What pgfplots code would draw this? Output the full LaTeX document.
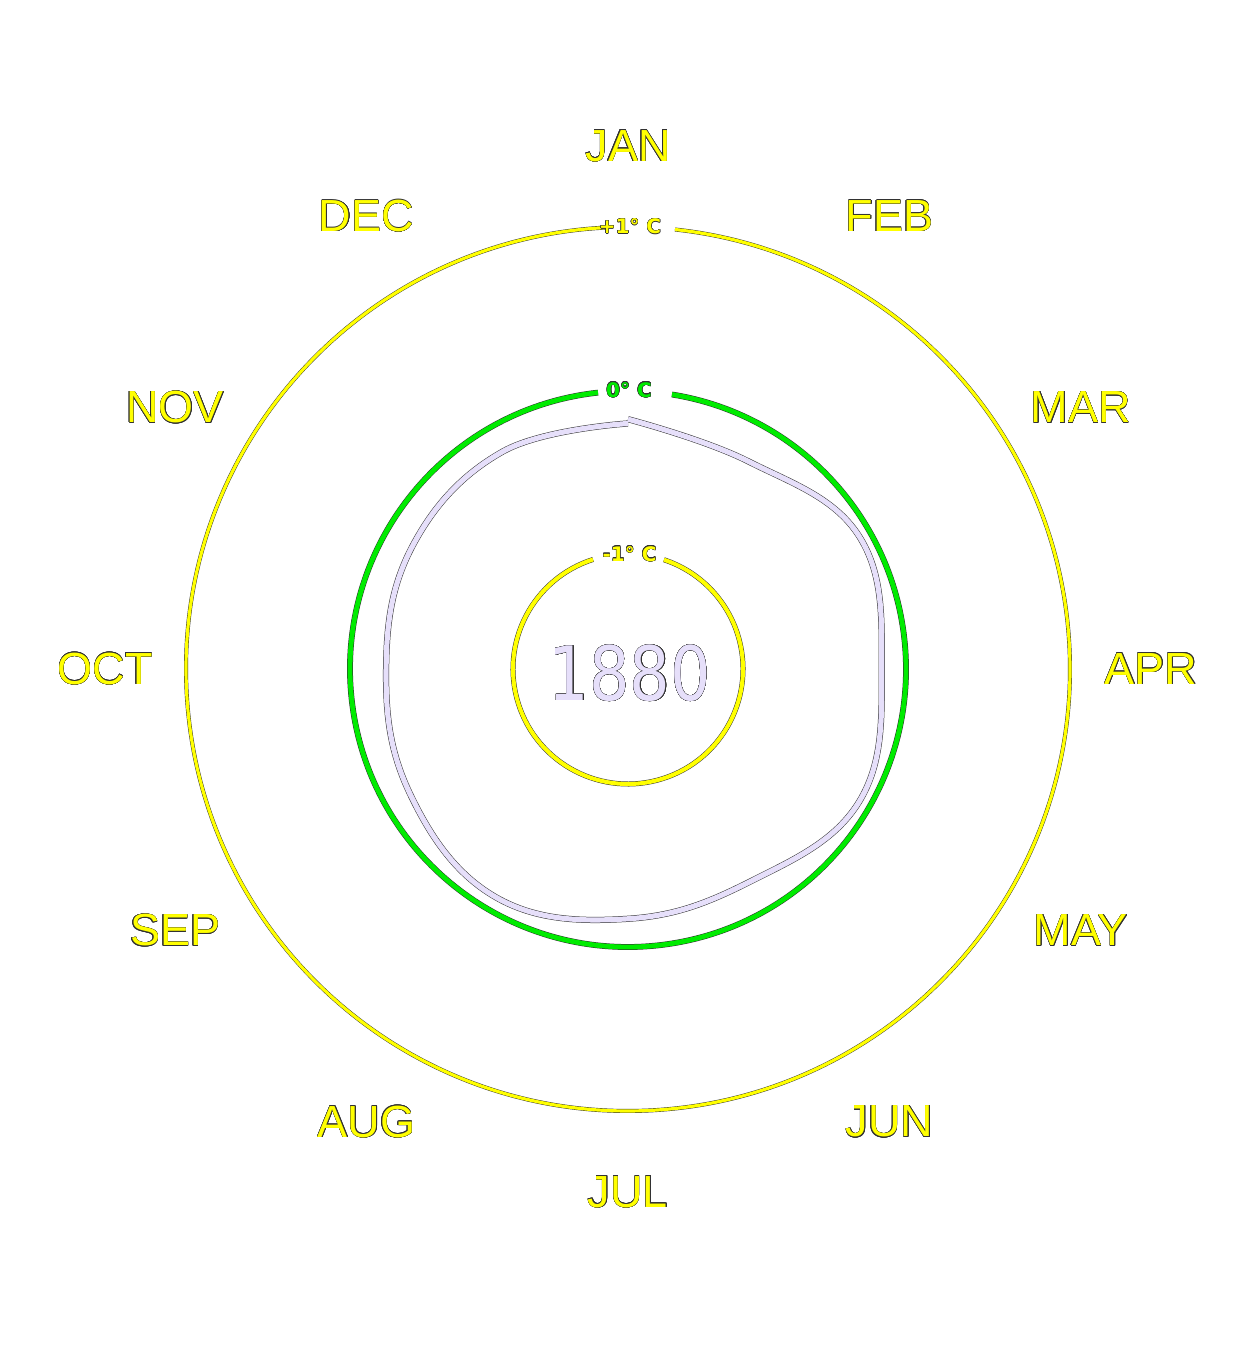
\documentclass[border=0pt]{standalone}
\usepackage{pgfplots}
\pgfplotsset{compat=1.18}
\usepackage{pgfplotstable}
\usepackage{fontspec}
\setmainfont{Liberation Sans}
\newfontfamily\dejavu{DejaVu Sans}
\usepackage{contour}
\contourlength{0.12pt}
\contournumber{16}
\definecolor{myyellow}{RGB}{255,255,0}
\definecolor{mygreen}{RGB}{0,235,0}
\definecolor{lav}{RGB}{230,223,250}
\definecolor{edge}{RGB}{50,50,50}

% month index (0 = JAN, clockwise) and temperature anomaly (deg C)
\pgfplotstableread{
m T
0 -0.172
1 -0.232
2 -0.070
3 -0.148
4 -0.070
5 -0.200
6 -0.172
7 -0.087
8 -0.163
9 -0.220
10 -0.182
11 -0.165
12 -0.198
}\spiral

\begin{document}
\begin{tikzpicture}
\begin{axis}[
  scale only axis, width=373.8pt, height=405pt,
  xmin=-628, xmax=618, ymin=-681, ymax=669,
  hide axis, clip=false,
]
\path (axis cs:-628,-681) rectangle (axis cs:618,669);
% +1 C circle
\draw[edge, line width=1.2pt] (axis cs:{442*cos(92.7)},{442*sin(92.7)}) arc[start angle=92.7, end angle=443.9, radius=442];
\draw[myyellow, line width=0.95pt] (axis cs:{442*cos(92.7)},{442*sin(92.7)}) arc[start angle=92.7, end angle=443.9, radius=442];
% 0 C circle
\draw[edge, line width=1.75pt] (axis cs:{278*cos(96.2)},{278*sin(96.2)}) arc[start angle=96.2, end angle=440.9, radius=278];
\draw[mygreen, line width=1.45pt] (axis cs:{278*cos(96.2)},{278*sin(96.2)}) arc[start angle=96.2, end angle=440.9, radius=278];
% -1 C circle
\draw[edge, line width=1.5pt] (axis cs:{115*cos(107.7)},{115*sin(107.7)}) arc[start angle=107.7, end angle=431.8, radius=115];
\draw[myyellow, line width=1.22pt] (axis cs:{115*cos(107.7)},{115*sin(107.7)}) arc[start angle=107.7, end angle=431.8, radius=115];

% spiral line for the year
\addplot[edge, line width=1.85pt, smooth, tension=0.67, no markers]
  table[x expr={(278+164*\thisrow{T})*sin(30*\thisrow{m})}, y expr={(278+164*\thisrow{T})*cos(30*\thisrow{m})}] {\spiral};
\addplot[lav, line width=1.55pt, smooth, tension=0.67, no markers]
  table[x expr={(278+164*\thisrow{T})*sin(30*\thisrow{m})}, y expr={(278+164*\thisrow{T})*cos(30*\thisrow{m})}] {\spiral};

% circle labels
\contourlength{0.08pt}
\node[font=\dejavu\bfseries\fontsize{6pt}{7pt}\selectfont, text=myyellow, inner sep=0] at (axis cs:2,442.5) {\contour{edge}{+1° C}};
\node[font=\dejavu\bfseries\fontsize{6pt}{7pt}\selectfont, text=mygreen, inner sep=0] at (axis cs:1,279) {\contour{edge}{0° C}};
\node[font=\dejavu\bfseries\fontsize{6pt}{7pt}\selectfont, text=myyellow, inner sep=0] at (axis cs:1.5,115) {\contour{edge}{-1° C}};

% year
\contourlength{0.1pt}
\node[font=\dejavu\fontsize{22.5pt}{24pt}\selectfont, text=lav, inner sep=0, xscale=0.85] at (axis cs:2,-4.5) {\contour{edge}{1880}};

% month labels
\contourlength{0.12pt}
\begin{scope}[every node/.style={font=\fontsize{13.5pt}{15pt}\selectfont, text=myyellow, inner sep=0}]
\node at (axis cs:0,523) {\contour{edge}{JAN}};
\node at (axis cs:261.5,452.9) {\contour{edge}{FEB}};
\node at (axis cs:452.9,261.5) {\contour{edge}{MAR}};
\node at (axis cs:523,0) {\contour{edge}{APR}};
\node at (axis cs:452.9,-261.5) {\contour{edge}{MAY}};
\node at (axis cs:261.5,-452.9) {\contour{edge}{JUN}};
\node at (axis cs:0,-523) {\contour{edge}{JUL}};
\node at (axis cs:-261.5,-452.9) {\contour{edge}{AUG}};
\node at (axis cs:-452.9,-261.5) {\contour{edge}{SEP}};
\node at (axis cs:-523,0) {\contour{edge}{OCT}};
\node at (axis cs:-452.9,261.5) {\contour{edge}{NOV}};
\node at (axis cs:-261.5,452.9) {\contour{edge}{DEC}};
\end{scope}
\end{axis}
\end{tikzpicture}
\end{document}
